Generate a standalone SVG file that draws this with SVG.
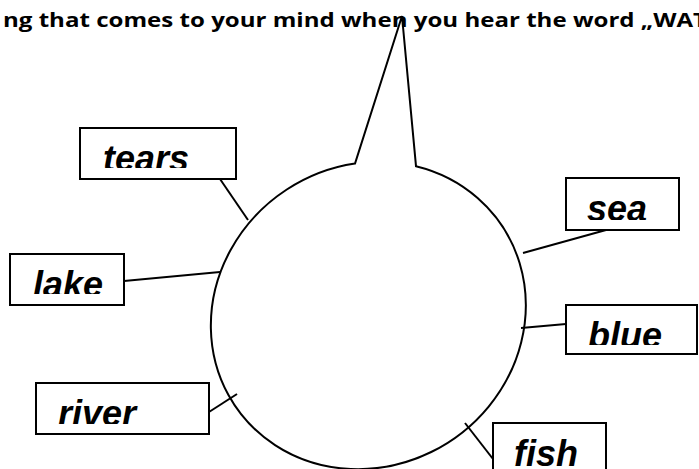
<svg xmlns="http://www.w3.org/2000/svg" width="699" height="469" viewBox="0 0 699 469">
<style>
.box{fill:#fff;stroke:#000;stroke-width:2}
.lbl{font-family:"Liberation Sans",Arial,sans-serif;font-weight:bold;font-style:italic;font-size:36px;fill:#000}
.con{stroke:#000;stroke-width:2;fill:none}
.title{font-family:"Open Sans","Liberation Sans",sans-serif;font-weight:bold;font-size:20px;fill:#000}
</style>
<defs>
<clipPath id="c-tears"><rect x="80" y="128" width="156" height="40"/></clipPath>
<clipPath id="c-lake"><rect x="10" y="254" width="114" height="40"/></clipPath>
<clipPath id="c-river"><rect x="36" y="383" width="173" height="41"/></clipPath>
<clipPath id="c-sea"><rect x="566" y="178" width="113" height="42"/></clipPath>
<clipPath id="c-blue"><rect x="566" y="305" width="131" height="40"/></clipPath>
<clipPath id="c-fish"><rect x="493" y="423" width="113" height="44"/></clipPath>
</defs>
<rect width="699" height="469" fill="#fff"/>
<text class="title" x="3" y="27" textLength="704" lengthAdjust="spacingAndGlyphs">ng that comes to your mind when you hear the word „WAT</text>
<g id="bubble">
<path class="con" d="M402,16 L355,163.5 A161 150 -35 1 0 416,166.2 Z"/>
</g>
<g id="connectors">
<line class="con" x1="220" y1="179" x2="248" y2="220"/>
<line class="con" x1="124" y1="281" x2="220" y2="272"/>
<line class="con" x1="209" y1="412" x2="237" y2="394"/>
<line class="con" x1="523" y1="253" x2="606" y2="230"/>
<line class="con" x1="521" y1="328" x2="566" y2="324"/>
<line class="con" x1="465" y1="423" x2="493" y2="459"/>
</g>
<g id="tears">
<rect class="box" x="80" y="128" width="156" height="51"/>
<text class="lbl" x="103" y="171" clip-path="url(#c-tears)">tears</text>
</g>
<g id="lake">
<rect class="box" x="10" y="254" width="114" height="51"/>
<text class="lbl" x="33" y="297" clip-path="url(#c-lake)">lake</text>
</g>
<g id="river">
<rect class="box" x="36" y="383" width="173" height="51"/>
<text class="lbl" x="58" y="426" clip-path="url(#c-river)">river</text>
</g>
<g id="sea">
<rect class="box" x="566" y="178" width="113" height="52"/>
<text class="lbl" x="587" y="221" clip-path="url(#c-sea)">sea</text>
</g>
<g id="blue">
<rect class="box" x="566" y="305" width="131" height="49"/>
<text class="lbl" x="588" y="348" clip-path="url(#c-blue)">blue</text>
</g>
<g id="fish">
<rect class="box" x="493" y="423" width="113" height="50"/>
<text class="lbl" x="514" y="466" clip-path="url(#c-fish)">fish</text>
</g>
</svg>
